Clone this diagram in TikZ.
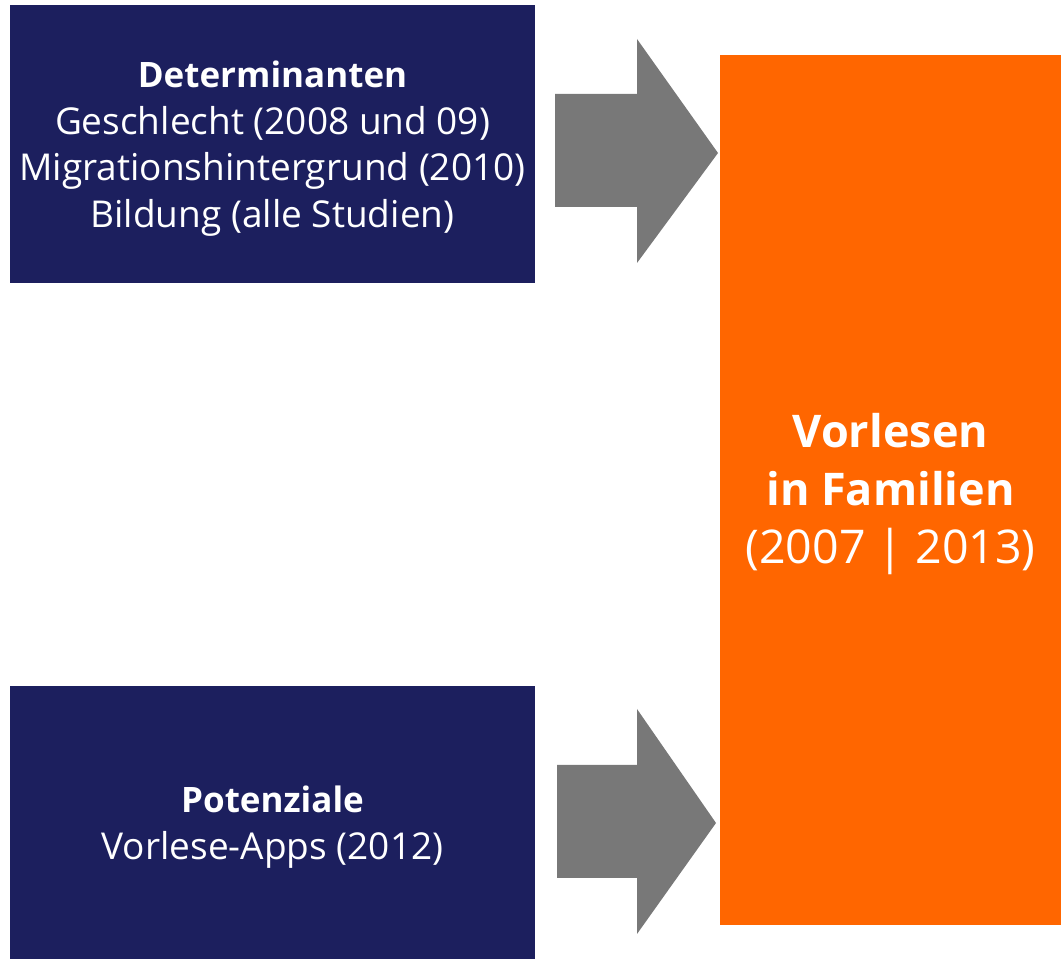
\documentclass[tikz,border=0pt]{standalone}
\usepackage{fontspec}
\setmainfont{Open Sans}
\definecolor{navy}{HTML}{1C1F5E}
\definecolor{orng}{HTML}{FF6600}
\definecolor{arrgray}{HTML}{787878}
\newcommand{\hd}[1]{{\fontsize{35}{46.5}\selectfont\textbf{#1}}}
\newcommand{\hdo}[1]{{\fontsize{45}{58}\selectfont\textbf{#1}}}
\begin{document}
\begin{tikzpicture}[x=1pt,y=1pt,
  box/.style={fill=navy,inner sep=0pt},
  boxtext/.style={text=white,align=center,inner sep=0pt,yshift=-4.5pt,font=\fontsize{37}{46.5}\selectfont},
  target/.style={fill=orng,inner sep=0pt},
  targettext/.style={text=white,align=center,inner sep=0pt,yshift=-4pt,font=\fontsize{46.5}{58}\selectfont},
  blockarrow/.style={fill=arrgray}]
\useasboundingbox (0,0) rectangle (1061,959);
\node[box,minimum width=525,minimum height=278,
  label={[boxtext]center:\hd{Determinanten}\\Geschlecht (2008 und 09)\\Migrationshintergrund (2010)\\Bildung (alle Studien)}] (det) at (272.5,815) {};
\node[box,minimum width=525,minimum height=273,
  label={[boxtext]center:\hd{Potenziale}\\Vorlese-Apps (2012)}] (pot) at (272.5,136.5) {};
\node[target,minimum width=341,minimum height=870,
  label={[targettext]center:\hdo{Vorlesen}\\\hdo{in Familien}\\(2007 | 2013)}] (vor) at (890.5,469) {};
% top block arrow
\fill[blockarrow] (555,865) -- (637,865) -- (637,920) -- (718,806) -- (637,696) -- (637,752) -- (555,752) -- cycle;
% bottom block arrow
\fill[blockarrow] (557,194) -- (637,194) -- (637,250) -- (716,136) -- (637,25) -- (637,81) -- (557,81) -- cycle;
\end{tikzpicture}
\end{document}
